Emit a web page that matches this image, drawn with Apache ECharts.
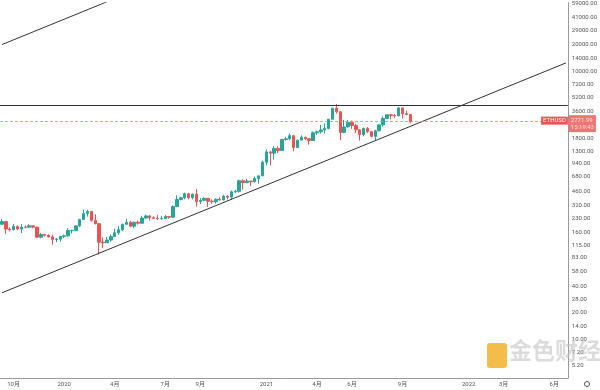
<!DOCTYPE html>
<html><head><meta charset="utf-8">
<script src="https://cdn.jsdelivr.net/npm/echarts@6/dist/echarts.min.js"></script>
<style>html,body{margin:0;padding:0;background:#fff}#c{width:600px;height:390px}</style>
</head><body><div id="c"></div>
<script>
// Weekly ETHUSD candles (week starting Monday), first week 2019-09-16
const startWeek = '2019-09-16';
const totalWeeks = 146; // includes empty future weeks on the axis
const opens  = [197,211,174,171,186,174,183,182,189,183,141,151,148,142,133,134,
  144,146,167,168,189,223,259,274,218,200,124,122,131,143,158,171,197,207,187,207,202,231,244,233,229,227,228,241,236,311,372,390,433,391,428,353,365,384,357,352,375,368,406,396,454,460,605,575,600,590,640,685,
  975,1270,1230,1390,1315,1745,1780,1930,1420,1720,1850,1785,1700,2080,2140,2240,2320,2950,3920,3580,2100,2420,2720,2510,2250,1980,2320,2140,1895,2190,2550,3010,3310,3240,3220,3950,3400,3330];
const highs  = [225,212,182,198,191,197,191,197,190,184,157,152,152,150,138,145,
  151,178,172,190,226,287,285,277,254,201,140,142,151,176,188,199,227,215,210,216,245,253,250,241,249,245,249,243,320,416,400,445,440,433,488,386,395,385,374,382,395,420,417,470,480,620,625,635,600,675,665,1010,
  1350,1300,1475,1470,1760,1870,2040,1960,1740,1945,1880,1810,2140,2200,2550,2640,2960,3950,4380,3580,2900,2900,2850,2600,2250,2380,2410,2190,2250,2560,3180,3330,3340,3380,4030,3970,3680,3350];
const lows   = [194,153,164,167,170,157,177,180,177,138,137,143,140,116,124,126,
  137,143,155,165,183,220,240,210,196,90,107,122,125,143,150,165,193,182,178,195,198,226,217,225,220,222,228,227,231,305,365,375,375,374,310,332,360,308,333,335,364,366,374,370,440,445,480,565,530,575,560,680,
  900,900,1040,1230,1300,1700,1720,1290,1410,1720,1730,1530,1700,1970,2040,2050,2280,2950,3400,1730,2050,2380,2300,2070,1700,1900,2060,1860,1720,2160,2450,3000,2950,3050,3160,3000,3290,2650];
const closes = [211,174,171,186,174,183,182,189,183,141,151,148,142,133,134,144,
  146,167,168,189,223,259,274,218,200,124,122,131,143,158,171,197,207,187,207,202,231,244,233,229,227,228,241,236,311,372,390,433,391,428,353,365,384,357,352,375,368,406,396,454,460,605,575,600,590,640,685,975,
  1270,1230,1390,1315,1745,1780,1930,1420,1720,1850,1785,1700,2080,2140,2240,2320,2950,3920,3580,2100,2420,2720,2510,2250,1980,2320,2140,1895,2190,2550,3010,3310,3240,3220,3950,3400,3330,2771.99];
const lastPrice = 2771.99;
const resistance = 4200;
// Trend lines: [week index, price]
const lowerTrend = [[0, 33.6], [145, 12585]];
const upperTrend = [[0, 20210], [30, 68850]];
// Axis ticks
const yTickValues = [59000,41000,29000,20000,14000,10000,7200,5200,3600,1800,1300,940,680,460,320,230,160,115,83,58,40,28,20,14,10,7.2,5.2];
const xTickDates  = ['2019-10-07','2020-01-06','2020-04-06','2020-07-06','2020-09-07','2021-01-04','2021-04-05','2021-06-07','2021-09-06','2022-01-03','2022-03-07','2022-06-06'];
const xTickLabels = ['10月','2020','4月','7月','9月','2021','4月','6月','9月','2022','3月','6月'];

const categories = [];
const t0 = Date.parse(startWeek + 'T00:00:00Z');
for (let i = 0; i < totalWeeks; i++) categories.push(new Date(t0 + i * 7 * 864e5).toISOString().slice(0, 10));
const candleData = categories.map((d, i) => i < opens.length ? [opens[i], closes[i], lows[i], highs[i]] : '-');
const tickMap = {};
xTickDates.forEach((d, i) => tickMap[d] = xTickLabels[i]);

const UP = '#26a69a', DOWN = '#ef5350';
const chart = echarts.init(document.getElementById('c'), null, {renderer: 'canvas'});
chart.setOption({
  animation: false,
  backgroundColor: '#ffffff',
  textStyle: {fontFamily: "Roboto, 'Noto Sans CJK SC', sans-serif"},
  grid: {left: 0, right: 30, top: 0, bottom: 12, containLabel: false},
  xAxis: {
    type: 'category', data: categories, boundaryGap: true,
    axisLine: {lineStyle: {color: '#9a9a9a', width: 1}},
    axisTick: {show: false},
    splitLine: {show: false},
    axisLabel: {
      fontSize: 6, color: '#555', margin: 3,
      interval: (idx, val) => tickMap[val] !== undefined,
      formatter: (val) => tickMap[val] || ''
    }
  },
  yAxis: {
    type: 'log', logBase: 10, position: 'right', min: 3.74, max: 59500,
    axisLine: {show: true, lineStyle: {color: '#9a9a9a', width: 1}},
    axisTick: {show: false},
    splitLine: {show: false},
    axisLabel: {
      fontSize: 6, color: '#555', margin: 4,
      customValues: yTickValues,
      formatter: (v) => Number(v).toFixed(2)
    }
  },
  series: [
    {
      type: 'candlestick', data: candleData, barWidth: 3,
      itemStyle: {color: UP, color0: DOWN, borderColor: UP, borderColor0: DOWN, borderWidth: 1},
      markLine: {
        silent: true, symbol: 'none', animation: false,
        data: [
          {yAxis: resistance, lineStyle: {color: '#333', width: 1, type: 'solid'}, label: {show: false}},
          {yAxis: lastPrice, lineStyle: {color: '#f28462', width: 1, type: [3, 2], opacity: 0.8},
            label: {show: true, position: 'end', distance: 1, formatter: lastPrice.toFixed(2) + '\n15:19:43',
              color: '#fff', backgroundColor: DOWN, fontSize: 6, lineHeight: 7, padding: [2, 2, 1, 2], offset: [0, 2]}},
          {yAxis: lastPrice, lineStyle: {color: 'rgba(0,0,0,0)', width: 0},
            label: {show: true, position: 'insideEndTop', distance: 0, formatter: 'ETHUSD', offset: [0, 3],
              color: '#fff', backgroundColor: DOWN, fontSize: 6, padding: [1, 2]}}
        ]
      }
    },
    {type: 'line', data: lowerTrend, symbol: 'none', silent: true, lineStyle: {color: '#333', width: 1}, clip: true},
    {type: 'line', data: upperTrend, symbol: 'none', silent: true, lineStyle: {color: '#333', width: 1}, clip: true}
  ],
  graphic: [
    {type: 'rect', left: 487, top: 343, shape: {width: 20, height: 25, r: 3}, style: {fill: 'rgba(242,176,40,0.85)'}, z: 100},
    {type: 'text', left: 509, top: 339, style: {text: '金色财经', font: "bold 23px 'Noto Sans CJK SC'", fill: 'rgba(190,190,190,0.55)'}, z: 100},
    {type: 'circle', shape: {cx: 587, cy: 384, r: 2.5}, style: {fill: 'none', stroke: '#555', lineWidth: 1}}
  ]
});
</script></body></html>
